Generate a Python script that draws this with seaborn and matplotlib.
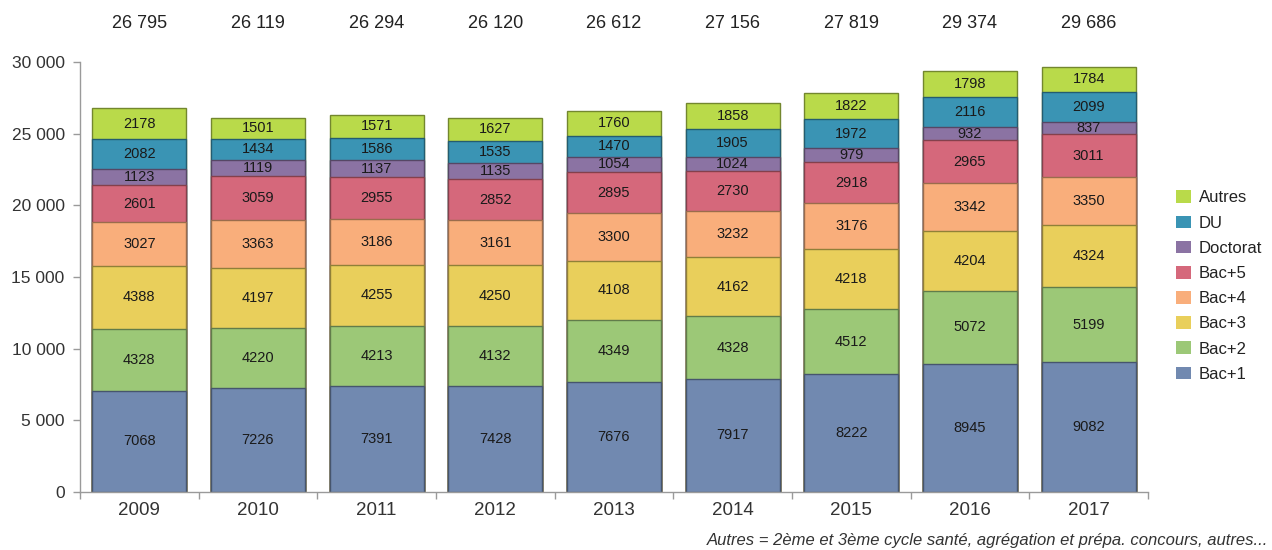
import numpy as np
import pandas as pd
import matplotlib
matplotlib.use("Agg")
import matplotlib.pyplot as plt
import matplotlib.colors as mcolors
from matplotlib.patches import Patch
from matplotlib.ticker import FuncFormatter, FixedLocator
import seaborn as sns

YEARS = ['2009', '2010', '2011', '2012', '2013', '2014', '2015', '2016', '2017']
LEVELS = ['Bac+1', 'Bac+2', 'Bac+3', 'Bac+4', 'Bac+5', 'Doctorat', 'DU', 'Autres']

BAC1 = [7068, 7226, 7391, 7428, 7676, 7917, 8222, 8945, 9082]
BAC2 = [4328, 4220, 4213, 4132, 4349, 4328, 4512, 5072, 5199]
BAC3 = [4388, 4197, 4255, 4250, 4108, 4162, 4218, 4204, 4324]
BAC4 = [3027, 3363, 3186, 3161, 3300, 3232, 3176, 3342, 3350]
BAC5 = [2601, 3059, 2955, 2852, 2895, 2730, 2918, 2965, 3011]
DOCTORAT = [1123, 1119, 1137, 1135, 1054, 1024, 979, 932, 837]
DU = [2082, 1434, 1586, 1535, 1470, 1905, 1972, 2116, 2099]
AUTRES = [2178, 1501, 1571, 1627, 1760, 1858, 1822, 1798, 1784]

COLORS = ['#7189b0', '#9cc877', '#e9cf5b', '#f9ae7b', '#d5687b', '#8b73a3', '#3a94b4', '#b9da4a']

NOTE = "Autres = 2ème et 3ème cycle santé, agrégation et prépa. concours, autres..."


def darker(c, f=0.62):
    r, g, b = mcolors.to_rgb(c)
    return (r * f, g * f, b * f)


def fmt_thousands(v):
    return f"{int(round(v)):,}".replace(",", " ")


series = [BAC1, BAC2, BAC3, BAC4, BAC5, DOCTORAT, DU, AUTRES]
df = pd.DataFrame({lvl: vals for lvl, vals in zip(LEVELS, series)}, index=YEARS)
cum = df.cumsum(axis=1)
totals = df.sum(axis=1)

sns.set_theme(style="white")
plt.rcParams['font.family'] = ['Liberation Sans', 'DejaVu Sans']

fig = plt.figure(figsize=(12.72, 5.5), dpi=100)
ax = fig.add_axes([80 / 1272, 1 - 492 / 550, (1148 - 80) / 1272, 430 / 550])

# draw cumulative bars from top layer down so each lower layer covers the previous
for lvl, col in reversed(list(zip(LEVELS, COLORS))):
    plot_df = pd.DataFrame({'Année': YEARS, 'val': cum[lvl].values})
    sns.barplot(data=plot_df, x='Année', y='val', color=col, width=0.79,
                edgecolor=darker(col), linewidth=1, saturation=1, ax=ax)

top_trans = matplotlib.transforms.blended_transform_factory(ax.transData, fig.transFigure)

# segment labels + totals
for i, yr in enumerate(YEARS):
    bottom = 0
    for lvl in LEVELS:
        v = df.loc[yr, lvl]
        ax.text(i, bottom + v / 2, f"{v}", ha='center', va='center',
                fontsize=10.5, color='#1a1a1a')
        bottom += v
    ax.text(i, 1 - 23 / 550, fmt_thousands(totals[yr]), ha='center', va='center',
            fontsize=13, color='#222222', transform=top_trans)

ax.set_xlim(-0.5, len(YEARS) - 0.5)
ax.set_ylim(0, 30000)
ax.set_yticks(np.arange(0, 30001, 5000))
ax.yaxis.set_major_formatter(FuncFormatter(lambda v, p: fmt_thousands(v)))
ax.set_xlabel('')
ax.set_ylabel('')

for s in ['top', 'right']:
    ax.spines[s].set_visible(False)
for s in ['left', 'bottom']:
    ax.spines[s].set_color('#9a9a9a')
    ax.spines[s].set_linewidth(1)

ax.tick_params(axis='y', left=True, length=5, width=1, color='#9a9a9a',
               labelsize=12.5, labelcolor='#333333', pad=6)
ax.tick_params(axis='x', which='major', bottom=False, labelsize=13.5,
               labelcolor='#333333', pad=1)
ax.xaxis.set_minor_locator(FixedLocator(np.arange(-0.5, len(YEARS), 1.0)))
ax.tick_params(axis='x', which='minor', bottom=True, length=5, width=1, color='#9a9a9a')

handles = [Patch(facecolor=c, edgecolor='none', label=l) for l, c in zip(LEVELS, COLORS)]
handles = handles[::-1]
fig.legend(handles=handles, loc='center left', bbox_to_anchor=(1168 / 1272, 1 - 286 / 550),
           frameon=False, fontsize=12, handlelength=0.85, handleheight=0.8,
           handletextpad=0.5, labelspacing=0.6, borderpad=0, labelcolor='#222222')

fig.text(1268 / 1272, 1 - 540 / 550, NOTE, ha='right', va='center', fontsize=12,
         style='italic', color='#333333')

fig.savefig('out.png', dpi=100)
